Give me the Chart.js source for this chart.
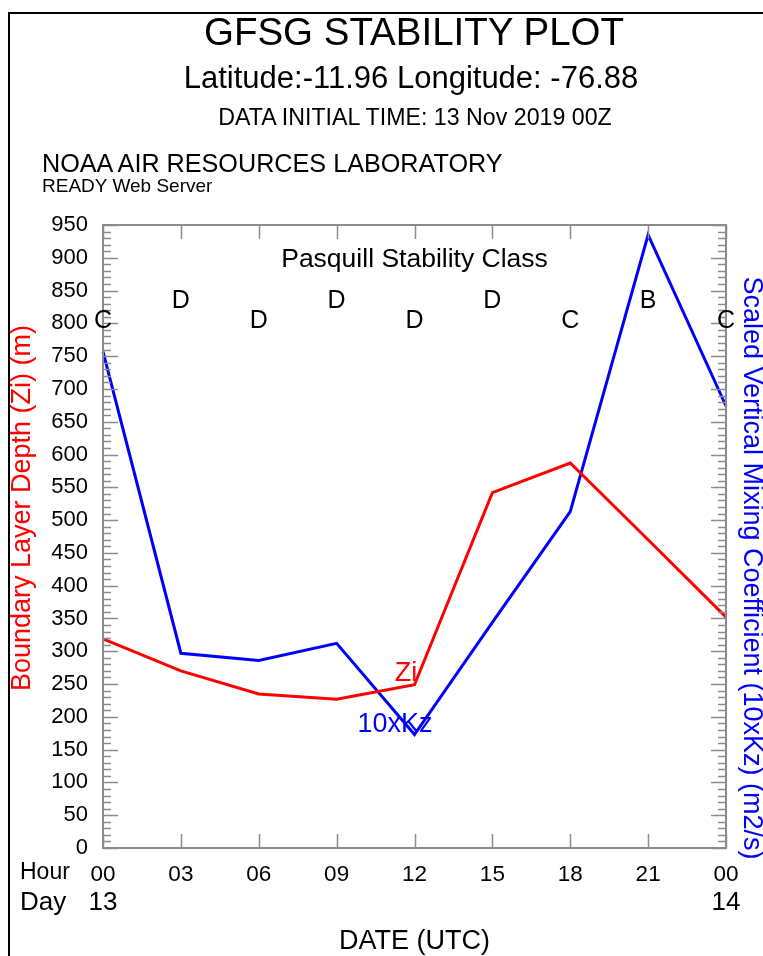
<!DOCTYPE html>
<html>
<head>
<meta charset="utf-8">
<title>GFSG Stability Plot</title>
<script src="https://cdn.jsdelivr.net/npm/chart.js@4.4.1/dist/chart.umd.min.js"></script>
<style>
  html, body { margin: 0; padding: 0; background: #fff; }
  #wrap { position: relative; width: 763px; height: 956px; overflow: hidden; font-family: "Liberation Sans", Arial, sans-serif; }
  #wrap canvas { position: absolute; left: 0; top: 0; }
  .txt { position: absolute; white-space: nowrap; color: #000; line-height: 1; }
  .ctr { transform: translate(-50%, -50%); }
  .lft { transform: translate(0, -50%); }
</style>
</head>
<body>
<div id="wrap">
  <canvas id="chart" width="763" height="956"></canvas>
  <div class="txt ctr" style="left:414px;top:32px;font-size:38.5px;">GFSG STABILITY PLOT</div>
  <div class="txt ctr" style="left:411px;top:77px;font-size:31px;">Latitude:-11.96 Longitude: -76.88</div>
  <div class="txt ctr" style="left:415px;top:118px;font-size:23.2px;">DATA INITIAL TIME: 13 Nov 2019 00Z</div>
  <div class="txt lft" style="left:42px;top:164px;font-size:25.2px;">NOAA AIR RESOURCES LABORATORY</div>
  <div class="txt lft" style="left:42px;top:185px;font-size:19px;">READY Web Server</div>
</div>
<script>
// hours since 13 Nov 2019 00Z
const hours = [0, 3, 6, 9, 12, 15, 18, 21, 24];
// boundary layer depth Zi (m)
const ziValues = [319, 270, 235, 227, 249, 542, 587, 470, 352];
// scaled vertical mixing coefficient 10xKz (m2/s)
const kzValues = [757, 297, 286, 312, 173, 344, 513, 935, 674];
// Pasquill stability class at each hour
const stabilityClass = ['C', 'D', 'D', 'D', 'D', 'D', 'C', 'B', 'C'];
const yTicks = [0, 50, 100, 150, 200, 250, 300, 350, 400, 450, 500, 550, 600, 650, 700, 750, 800, 850, 900, 950];
const dayLabels = { 0: '13', 24: '14' };

const FONT = '"Liberation Sans", Arial, sans-serif';
const AXIS = '#8c8c8c';

const decorations = {
    id: 'decorations',
    afterDraw(chart) {
        const { ctx, chartArea: a, scales } = chart;
        const x = scales.x, y = scales.y;
        ctx.save();

        // page frame
        ctx.strokeStyle = '#000';
        ctx.lineWidth = 2;
        ctx.beginPath();
        ctx.moveTo(9, 956); ctx.lineTo(9, 13); ctx.lineTo(763, 13);
        ctx.stroke();

        // plot box
        ctx.strokeStyle = AXIS;
        ctx.lineWidth = 2;
        ctx.strokeRect(a.left, a.top, a.right - a.left, a.bottom - a.top);

        // inward ticks, y: major every 50, minor every 10
        ctx.lineWidth = 1.5;
        ctx.beginPath();
        for (let v = 0; v <= 950; v += 10) {
            const py = Math.round(y.getPixelForValue(v)) + 0.5;
            const len = v % 50 === 0 ? 15 : 8;
            ctx.moveTo(a.left, py); ctx.lineTo(a.left + len, py);
            ctx.moveTo(a.right, py); ctx.lineTo(a.right - len, py);
        }
        // x ticks top and bottom
        hours.forEach(h => {
            const px = Math.round(x.getPixelForValue(h)) + 0.5;
            ctx.moveTo(px, a.top); ctx.lineTo(px, a.top + 14);
            ctx.moveTo(px, a.bottom); ctx.lineTo(px, a.bottom - 14);
        });
        ctx.stroke();

        ctx.textAlign = 'center';
        ctx.textBaseline = 'middle';

        // stability classes
        ctx.fillStyle = '#000';
        ctx.font = '26.5px ' + FONT;
        ctx.fillText('Pasquill Stability Class', x.getPixelForValue(12), 260);
        ctx.font = '25px ' + FONT;
        stabilityClass.forEach((c, i) => {
            ctx.fillText(c, x.getPixelForValue(hours[i]), i % 2 === 0 ? 321 : 301);
        });

        // series labels
        ctx.font = '27px ' + FONT;
        ctx.fillStyle = '#ff0000';
        ctx.fillText('Zi', 406, 674);
        ctx.fillStyle = '#0000ff';
        ctx.fillText('10xKz', 395, 725);

        // axis titles
        ctx.save();
        ctx.translate(23, 508);
        ctx.rotate(-Math.PI / 2);
        ctx.fillStyle = '#ff0000';
        ctx.font = '27px ' + FONT;
        ctx.fillText('Boundary Layer Depth (Zi) (m)', 0, 0);
        ctx.restore();

        ctx.save();
        ctx.translate(751, 568);
        ctx.rotate(Math.PI / 2);
        ctx.fillStyle = '#0000ff';
        ctx.font = '27px ' + FONT;
        ctx.fillText('Scaled Vertical Mixing Coefficient (10xKz) (m2/s)', 0, 0);
        ctx.restore();

        // hour / day rows
        ctx.fillStyle = '#000';
        ctx.textAlign = 'left';
        ctx.font = '23px ' + FONT;
        ctx.fillText('Hour', 20, 873);
        ctx.font = '26px ' + FONT;
        ctx.fillText('Day', 20, 903);
        ctx.textAlign = 'center';
        Object.keys(dayLabels).forEach(h => {
            ctx.fillText(dayLabels[h], x.getPixelForValue(+h), 903);
        });
        ctx.font = '27px ' + FONT;
        ctx.fillText('DATE (UTC)', x.getPixelForValue(12), 942);

        ctx.restore();
    }
};

new Chart(document.getElementById('chart'), {
    type: 'line',
    data: {
        datasets: [
            {
                label: 'Zi',
                data: hours.map((h, i) => ({ x: h, y: ziValues[i] })),
                borderColor: '#ff0000',
                borderWidth: 3,
                pointRadius: 0,
                tension: 0,
                clip: false,
            },
            {
                label: '10xKz',
                data: hours.map((h, i) => ({ x: h, y: kzValues[i] })),
                borderColor: '#0000ff',
                borderWidth: 3,
                pointRadius: 0,
                tension: 0,
                clip: false,
            },
        ],
    },
    options: {
        responsive: false,
        animation: false,
        devicePixelRatio: 1,
        layout: { padding: { top: 225, left: 0, right: 0, bottom: 0 } },
        plugins: { legend: { display: false }, tooltip: { enabled: false } },
        scales: {
            x: {
                type: 'linear',
                min: 0,
                max: 24,
                afterBuildTicks: s => { s.ticks = hours.map(v => ({ value: v })); },
                afterFit: s => { s.height = 108; },
                grid: { display: false, drawTicks: false },
                border: { display: false },
                ticks: {
                    padding: 13,
                    color: '#000',
                    font: { family: FONT, size: 22.5 },
                    callback: v => String(v % 24).padStart(2, '0'),
                },
            },
            y: {
                min: 0,
                max: 950,
                afterBuildTicks: s => { s.ticks = yTicks.map(v => ({ value: v })); },
                afterFit: s => { s.width = 103; },
                grid: { display: false, drawTicks: false },
                border: { display: false },
                ticks: {
                    padding: 15,
                    color: '#000',
                    font: { family: FONT, size: 22 },
                },
            },
            y2: {
                position: 'right',
                min: 0,
                max: 950,
                afterFit: s => { s.width = 37; },
                grid: { display: false, drawTicks: false },
                border: { display: false },
                ticks: { display: false },
            },
        },
    },
    plugins: [decorations],
});
</script>
</body>
</html>
